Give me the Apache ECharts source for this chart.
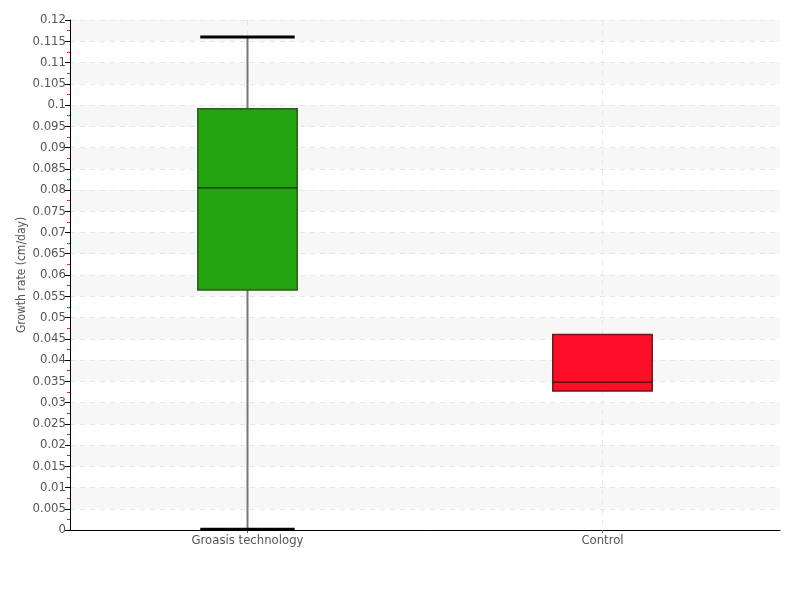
<!DOCTYPE html>
<html>
<head>
<meta charset="utf-8">
<script src="https://cdn.jsdelivr.net/npm/echarts@6/dist/echarts.min.js"></script>
<style>
  html, body { margin: 0; padding: 0; background: #fff; }
  #chart { width: 800px; height: 600px; }
</style>
</head>
<body>
<div id="chart"></div>
<script>
// box plot values
var categories = ['Groasis technology', 'Control'];
var mins    = [0.0002, 0.0327];
var q1s     = [0.0565, 0.0327];
var medians = [0.0805, 0.0348];
var q3s     = [0.0991, 0.0460];
var maxs    = [0.116,  0.0460];
var fills   = ['#22a40f', '#ff0e28'];
var borders = ['#2f5a22', '#6e1420'];

var font = "'Liberation Sans Narrow', 'DejaVu Sans Condensed', 'Liberation Sans', sans-serif";

var rows = categories.map(function (c, i) {
  return [i, mins[i], q1s[i], medians[i], q3s[i], maxs[i]];
});

function renderBox(params, api) {
  var i = api.value(0);
  var x = api.coord([i, 0])[0];
  var yMin = api.coord([i, api.value(1)])[1];
  var yQ1 = api.coord([i, api.value(2)])[1];
  var yMed = api.coord([i, api.value(3)])[1];
  var yQ3 = api.coord([i, api.value(4)])[1];
  var yMax = api.coord([i, api.value(5)])[1];
  var bw = api.size([1, 0])[0] * 0.28;
  var cw = bw * 0.95;
  var kids = [];
  // whiskers
  if (yMin - yQ1 > 1) {
    kids.push({ type: 'line', shape: { x1: x, y1: yQ1, x2: x, y2: yMin }, style: { stroke: '#777', lineWidth: 2 } });
    kids.push({ type: 'line', shape: { x1: x - cw / 2, y1: yMin, x2: x + cw / 2, y2: yMin }, style: { stroke: '#000', lineWidth: 3 } });
  }
  if (yQ3 - yMax > 1) {
    kids.push({ type: 'line', shape: { x1: x, y1: yMax, x2: x, y2: yQ3 }, style: { stroke: '#777', lineWidth: 2 } });
    kids.push({ type: 'line', shape: { x1: x - cw / 2, y1: yMax, x2: x + cw / 2, y2: yMax }, style: { stroke: '#000', lineWidth: 3 } });
  }
  kids.push({
    type: 'rect',
    shape: { x: x - bw / 2, y: yQ3, width: bw, height: yQ1 - yQ3 },
    style: { fill: fills[i], stroke: borders[i], lineWidth: 1.5 }
  });
  kids.push({ type: 'line', shape: { x1: x - bw / 2, y1: yMed, x2: x + bw / 2, y2: yMed }, style: { stroke: '#111', lineWidth: 1 } });
  return { type: 'group', children: kids };
}

var chart = echarts.init(document.getElementById('chart'));
chart.setOption({
  animation: false,
  grid: { left: 70, right: 20, top: 20, bottom: 70, outerBoundsMode: 'none' },
  xAxis: {
    type: 'category',
    data: categories,
    axisLine: { lineStyle: { color: '#000', width: 1 } },
    axisTick: { show: true, alignWithLabel: true, length: 3, lineStyle: { color: '#666' } },
    axisLabel: { color: '#555', fontFamily: font, fontSize: 13, margin: 4 },
    splitLine: { show: true, alignWithLabel: true, lineStyle: { color: '#e8e8e8', type: [5, 5] } }
  },
  yAxis: {
    type: 'value',
    min: 0,
    max: 0.12,
    interval: 0.005,
    name: 'Growth rate (cm/day)',
    nameLocation: 'middle',
    nameGap: 42,
    nameMoveOverlap: false,
    nameTextStyle: { color: '#555', fontFamily: font, fontSize: 12 },
    axisLine: { show: true, lineStyle: { color: '#000', width: 1 } },
    axisTick: { show: true, length: 5, lineStyle: { color: '#000' } },
    minorTick: { show: true, splitNumber: 2, length: 3, lineStyle: { color: '#ff2020' } },
    axisLabel: { color: '#555', fontFamily: font, fontSize: 13, margin: 4 },
    splitLine: { show: true, lineStyle: { color: '#e6e6e6', type: [5, 5] } },
    splitArea: { show: true, areaStyle: { color: ['rgba(255,255,255,0)', '#f7f7f7'] } }
  },
  series: [{
    type: 'custom',
    renderItem: renderBox,
    encode: { x: 0, y: [1, 2, 3, 4, 5] },
    data: rows,
    z: 3
  }]
});
</script>
</body>
</html>
